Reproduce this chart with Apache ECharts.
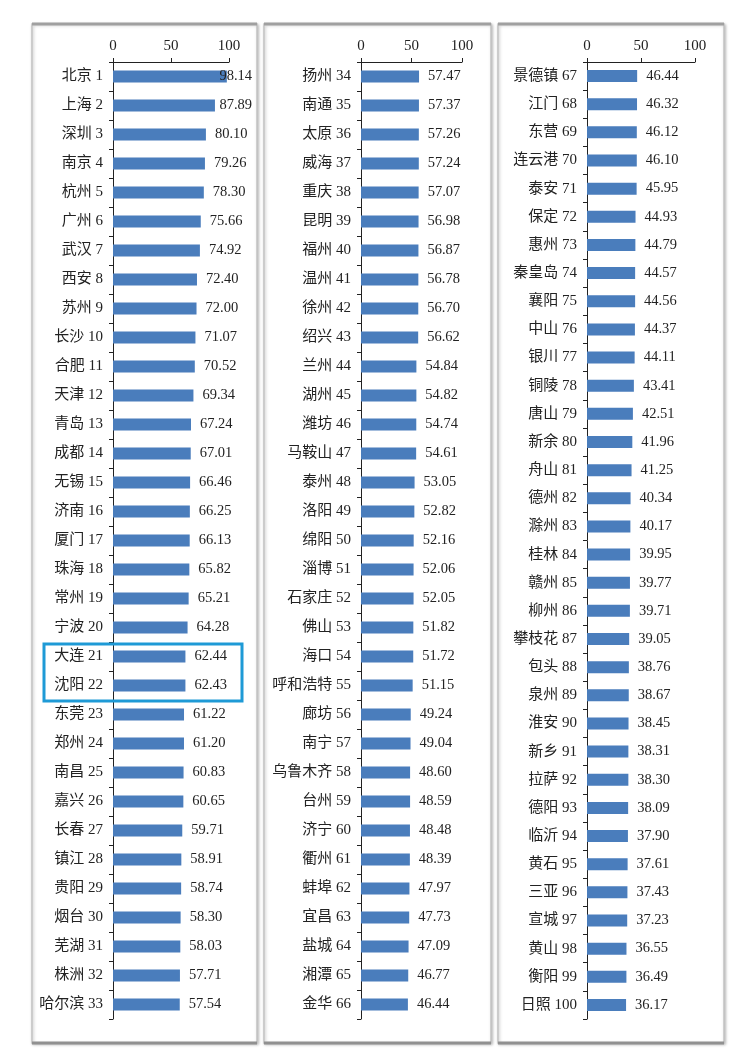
<!DOCTYPE html>
<html>
<head>
<meta charset="utf-8">
<script src="https://cdn.jsdelivr.net/npm/echarts@6/dist/echarts.min.js"></script>
<style>
html,body{margin:0;padding:0;background:#fff;}
#c{width:750px;height:1055px;}
</style>
</head>
<body>
<div id="c"></div>
<script>
// ---- data ----
const cities1 = ['北京','上海','深圳','南京','杭州','广州','武汉','西安','苏州','长沙','合肥','天津','青岛','成都','无锡','济南','厦门','珠海','常州','宁波','大连','沈阳','东莞','郑州','南昌','嘉兴','长春','镇江','贵阳','烟台','芜湖','株洲','哈尔滨'];
const ranks1 = [1,2,3,4,5,6,7,8,9,10,11,12,13,14,15,16,17,18,19,20,21,22,23,24,25,26,27,28,29,30,31,32,33];
const values1 = [98.14,87.89,80.10,79.26,78.30,75.66,74.92,72.40,72.00,71.07,70.52,69.34,67.24,67.01,66.46,66.25,66.13,65.82,65.21,64.28,62.44,62.43,61.22,61.20,60.83,60.65,59.71,58.91,58.74,58.30,58.03,57.71,57.54];

const cities2 = ['扬州','南通','太原','威海','重庆','昆明','福州','温州','徐州','绍兴','兰州','湖州','潍坊','马鞍山','泰州','洛阳','绵阳','淄博','石家庄','佛山','海口','呼和浩特','廊坊','南宁','乌鲁木齐','台州','济宁','衢州','蚌埠','宜昌','盐城','湘潭','金华'];
const ranks2 = [34,35,36,37,38,39,40,41,42,43,44,45,46,47,48,49,50,51,52,53,54,55,56,57,58,59,60,61,62,63,64,65,66];
const values2 = [57.47,57.37,57.26,57.24,57.07,56.98,56.87,56.78,56.70,56.62,54.84,54.82,54.74,54.61,53.05,52.82,52.16,52.06,52.05,51.82,51.72,51.15,49.24,49.04,48.60,48.59,48.48,48.39,47.97,47.73,47.09,46.77,46.44];

const cities3 = ['景德镇','江门','东营','连云港','泰安','保定','惠州','秦皇岛','襄阳','中山','银川','铜陵','唐山','新余','舟山','德州','滁州','桂林','赣州','柳州','攀枝花','包头','泉州','淮安','新乡','拉萨','德阳','临沂','黄石','三亚','宣城','黄山','衡阳','日照'];
const ranks3 = [67,68,69,70,71,72,73,74,75,76,77,78,79,80,81,82,83,84,85,86,87,88,89,90,91,92,93,94,95,96,97,98,99,100];
const values3 = [46.44,46.32,46.12,46.10,45.95,44.93,44.79,44.57,44.56,44.37,44.11,43.41,42.51,41.96,41.25,40.34,40.17,39.95,39.77,39.71,39.05,38.76,38.67,38.45,38.31,38.30,38.09,37.90,37.61,37.43,37.23,36.55,36.49,36.17];

const xTicks = [0, 50, 100];
const highlighted = ['大连', '沈阳'];

// ---- chart ----
const FONT = '"Liberation Serif","Times New Roman","Noto Sans CJK SC",serif';
const FS = 15;      // category / axis labels
const VFS = 14.5;   // value labels
const chart = echarts.init(document.getElementById('c'));

const panels = [
  {cities: cities1, ranks: ranks1, values: values1, left: 113, width: 116, px0: 32, px1: 257},
  {cities: cities2, ranks: ranks2, values: values2, left: 361, width: 101, px0: 264, px1: 491},
  {cities: cities3, ranks: ranks3, values: values3, left: 587, width: 108, px0: 498, px1: 724}
];
const TOP = 62, BOTTOM_Y = 1019, PTOP = 24, PBOT = 1043;
const LABEL_DIST = 9;

const grids = [], xAxes = [], yAxes = [], series = [], graphics = [];
panels.forEach((p, i) => {
  const cats = p.cities.map((c, k) => c + ' ' + p.ranks[k]);
  grids.push({left: p.left, width: p.width, top: TOP, height: BOTTOM_Y - TOP, containLabel: false});
  xAxes.push({
    type: 'value', gridIndex: i, position: 'top', min: xTicks[0], max: xTicks[xTicks.length - 1], interval: 50,
    splitLine: {show: false},
    axisLine: {show: true, lineStyle: {color: '#222', width: 1}},
    axisTick: {show: true, length: 4, lineStyle: {color: '#222'}},
    axisLabel: {fontFamily: FONT, fontSize: FS, color: '#222', margin: 8}
  });
  yAxes.push({
    type: 'category', gridIndex: i, data: cats, inverse: true,
    axisLine: {show: true, lineStyle: {color: '#222', width: 1}},
    axisTick: {show: true, length: 4, inside: false, lineStyle: {color: '#222'}},
    axisLabel: {fontFamily: FONT, fontSize: FS, color: '#222', margin: 10}
  });
  series.push({
    type: 'bar', xAxisIndex: i, yAxisIndex: i, data: p.values.map(v => ({value: v})), barWidth: 12,
    itemStyle: {color: '#4a7dbc'},
    label: {
      show: true, position: 'right', distance: LABEL_DIST, fontFamily: FONT, fontSize: VFS, color: '#222',
      formatter: (d) => d.value.toFixed(2)
    }
  });
  // panel frame
  graphics.push({
    type: 'rect', z: -10, silent: true,
    shape: {x: p.px0, y: PTOP, width: p.px1 - p.px0, height: PBOT - PTOP},
    style: {fill: '#fff', stroke: '#c4c4c4', lineWidth: 1.5, shadowBlur: 3, shadowColor: 'rgba(0,0,0,0.25)', shadowOffsetX: 1, shadowOffsetY: 1}
  });
  graphics.push({
    type: 'line', z: -9, silent: true,
    shape: {x1: p.px0, y1: PTOP, x2: p.px1, y2: PTOP},
    style: {stroke: '#a0a0a0', lineWidth: 3}
  });
  graphics.push({
    type: 'line', z: -9, silent: true,
    shape: {x1: p.px0, y1: PBOT, x2: p.px1, y2: PBOT},
    style: {stroke: '#909090', lineWidth: 3}
  });
});

chart.setOption({
  backgroundColor: '#fff',
  animation: false,
  grid: grids, xAxis: xAxes, yAxis: yAxes, series: series,
  graphic: graphics
});

// keep value labels inside their panel (shift left when they would overflow)
panels.forEach((p, i) => {
  const limit = p.px1 - 5;
  const data = p.values.map((v, k) => {
    const end = chart.convertToPixel({gridIndex: i}, [v, k])[0];
    const w = echarts.format.getTextRect ? echarts.format.getTextRect(v.toFixed(2), VFS + 'px ' + FONT).width : 33;
    const over = end + LABEL_DIST + w - limit;
    return over > 0 ? {value: v, label: {offset: [-over, 0]}} : {value: v};
  });
  series[i].data = data;
});

// highlight box around Dalian & Shenyang (computed from axis scale)
const idxA = cities1.indexOf(highlighted[0]);
const idxB = cities1.indexOf(highlighted[1]);
const cA = chart.convertToPixel({gridIndex: 0}, [0, idxA]);
const cB = chart.convertToPixel({gridIndex: 0}, [0, idxB]);
const band = cB[1] - cA[1];
const y0 = cA[1] - band / 2 + 2;
const y1 = cB[1] + band / 2 + 1;
graphics.push({
  type: 'rect', z: 100, silent: true,
  shape: {x: 44, y: y0, width: 198, height: y1 - y0},
  style: {fill: null, stroke: '#1e9ad6', lineWidth: 3}
});
chart.setOption({series: series, graphic: graphics});
</script>
</body>
</html>
